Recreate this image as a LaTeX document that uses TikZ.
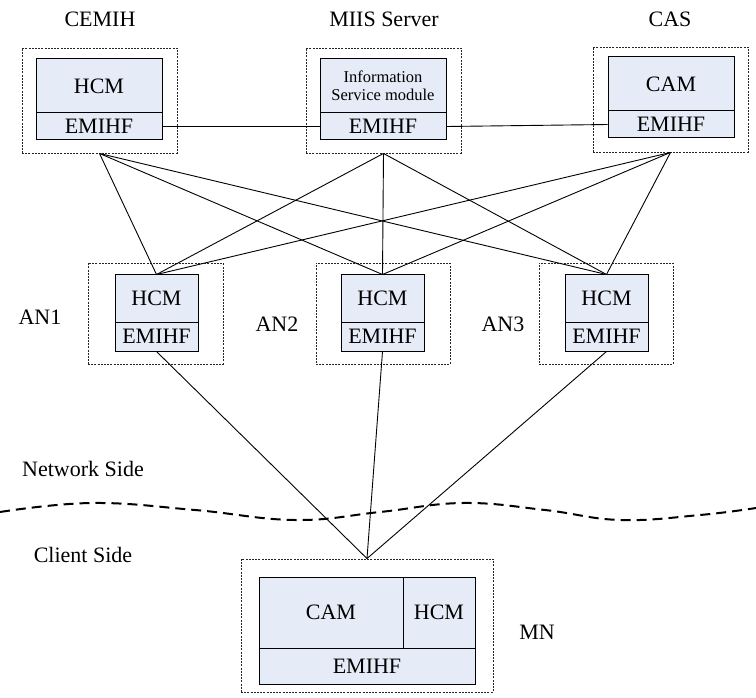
\documentclass[tikz,border=0pt]{standalone}
\usepackage{fontspec}
\setmainfont{Liberation Serif}
\begin{document}
\begin{tikzpicture}[x=1pt,y=-1pt,
  outerbox/.style={draw=black!85, line width=0.9pt, dash pattern=on 2pt off 1.2pt, inner sep=0pt},
  inbox/.style={draw=black, fill=boxfill, line width=1pt, inner sep=0pt, font=\fontsize{22}{24}\selectfont},
  lbl/.style={inner sep=0pt, font=\fontsize{22}{24}\selectfont},
  conn/.style={draw=black, line width=0.9pt}]
\definecolor{boxfill}{RGB}{230,236,247}
\useasboundingbox (0,0) rectangle (756,698);

% top row
\node[outerbox, minimum width=155pt, minimum height=105pt] (cemih) at (99.5,100.5) {};
\node[inbox, minimum width=126pt, minimum height=54pt] (cemihH) at (99,86) {HCM};
\node[inbox, minimum width=126pt, minimum height=27pt] (cemihE) at (99,126.5) {EMIHF};

\node[outerbox, minimum width=155pt, minimum height=105pt] (miis) at (383.5,100.5) {};
\node[inbox, minimum width=126pt, minimum height=54pt, font=\fontsize{16.5}{18}\selectfont, align=center] (miisH) at (383,86) {Information\\Service module};
\node[inbox, minimum width=126pt, minimum height=27pt] (miisE) at (383,126.5) {EMIHF};

\node[outerbox, minimum width=155pt, minimum height=105pt] (cas) at (670.5,99.5) {};
\node[inbox, minimum width=126pt, minimum height=54pt] (casH) at (671,84) {CAM};
\node[inbox, minimum width=126pt, minimum height=27pt] (casE) at (671,124.5) {EMIHF};

\node[lbl] (lcemih) at (100,19) {CEMIH};
\node[lbl] (lmiis) at (384,19) {MIIS Server};
\node[lbl] (lcas) at (670,19) {CAS};

% middle row
\node[outerbox, minimum width=135pt, minimum height=101pt] (an1) at (155.5,313.5) {};
\node[inbox, minimum width=83pt, minimum height=47pt] (an1H) at (156.5,298.5) {HCM};
\node[inbox, minimum width=83pt, minimum height=29pt] (an1E) at (156.5,336.5) {EMIHF};

\node[outerbox, minimum width=134pt, minimum height=101pt] (an2) at (383,313.5) {};
\node[inbox, minimum width=83pt, minimum height=47pt] (an2H) at (382.5,298.5) {HCM};
\node[inbox, minimum width=83pt, minimum height=29pt] (an2E) at (382.5,336.5) {EMIHF};

\node[outerbox, minimum width=134pt, minimum height=101pt] (an3) at (606,313.5) {};
\node[inbox, minimum width=83pt, minimum height=47pt] (an3H) at (606.5,298.5) {HCM};
\node[inbox, minimum width=83pt, minimum height=29pt] (an3E) at (606.5,336.5) {EMIHF};

\node[lbl] (lan1) at (40,317) {AN1};
\node[lbl] (lan2) at (277,324) {AN2};
\node[lbl] (lan3) at (503,324) {AN3};

% MN
\node[outerbox, minimum width=252pt, minimum height=133pt] (mn) at (367,625.5) {};
\node[inbox, minimum width=144pt, minimum height=71pt] (mnC) at (331,612.5) {CAM};
\node[inbox, minimum width=72pt, minimum height=71pt] (mnH) at (439,612.5) {HCM};
\node[inbox, minimum width=216pt, minimum height=36pt] (mnE) at (367,666) {EMIHF};
\node[lbl] (lmn) at (537,632) {MN};

\node[lbl] (lnet) at (83,469) {Network Side};
\node[lbl] (lcli) at (83,555) {Client Side};

% horizontal links
\draw[conn] (cemihE.east) -- (miisE.west);
\draw[conn] (miisE.east) -- (casE.west);

% mesh
\foreach \t in {cemih,miis,cas}{
  \foreach \a in {an1H,an2H,an3H}{
    \draw[conn] (\t.south) -- (\a.north);
  }
}
\foreach \a in {an1E,an2E,an3E}{
  \draw[conn] (\a.south) -- (mn.north);
}

% wave
\draw[line width=2pt, dash pattern=on 10pt off 6pt] plot[smooth, tension=0.7] coordinates {(0,512) (92,503) (195,510) (295,520) (380,512) (463,503) (545,510) (620,520) (700,515) (756,508)};
\end{tikzpicture}
\end{document}
